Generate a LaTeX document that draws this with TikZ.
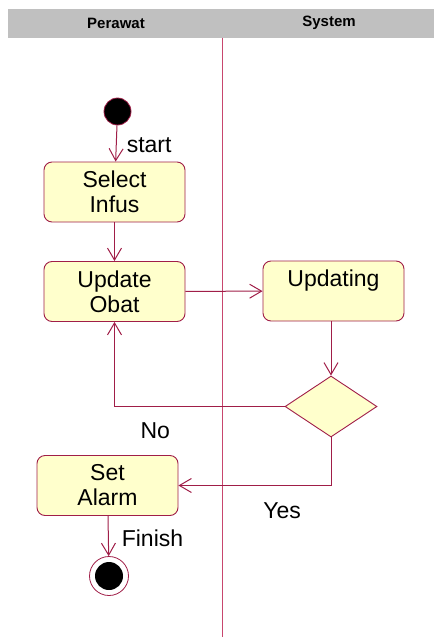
\documentclass[tikz,border=0pt]{standalone}
\usepackage{fontspec}
\setmainfont{Liberation Sans}
\usetikzlibrary{arrows.meta,shapes.geometric}
\definecolor{edge}{RGB}{160,30,72}
\definecolor{lane}{RGB}{200,70,110}
\definecolor{boxfill}{RGB}{255,255,204}
\definecolor{head}{RGB}{192,192,192}
\tikzset{
  act/.style={draw=edge, line width=0.9pt, fill=boxfill, rounded corners=8pt,
    minimum width=141pt, minimum height=60pt, align=center, inner sep=0pt,
    font=\fontsize{23}{25}\selectfont},
  arr/.style={draw=edge, line width=1pt, -{Straight Barb[length=12pt,width=14pt,line width=1pt]}},
  lbl/.style={font=\fontsize{23}{25}\selectfont, inner sep=0pt},
  hdr/.style={font=\fontsize{15}{17}\selectfont\bfseries, inner sep=0pt}
}
\begin{document}
\begin{tikzpicture}[x=1pt,y=-1pt]
\useasboundingbox (0,0) rectangle (434,637);
% swimlane header
\fill[head] (8,9) rectangle (434,37.5);
\node[hdr] (hp) at (116,23) {Perawat};
\node[hdr] (hs) at (329,23) {System};
\draw[lane, line width=0.9pt] (222.5,37.5) -- (222.5,637);
% nodes
\node[circle, draw=edge, fill=black, minimum size=27pt, inner sep=0pt, line width=0.8pt] (start) at (117.5,111.5) {};
\node[act] (sel) at (114.5,192) {Select\\Infus};
\node[act] (upd) at (114.5,291.5) {Update\\Obat};
\node[act] (upg) at (333.5,291) {Updating\\\mbox{}};
\node[diamond, draw=edge, fill=boxfill, line width=0.9pt, minimum width=92pt, minimum height=61pt, inner sep=0pt] (dia) at (331,406.5) {};
\node[act] (alarm) at (107.5,485.5) {Set\\Alarm};
\node[circle, draw=edge, fill=white, minimum size=39pt, inner sep=0pt, line width=0.8pt] (endo) at (109,576) {};
\node[circle, fill=black, minimum size=28pt, inner sep=0pt] (endi) at (endo.center) {};
% edges
\draw[arr] (start) -- node[lbl, anchor=west, xshift=10pt, yshift=-2pt] {start} (sel);
\draw[arr] (sel) -- (upd);
\draw[arr] (upd) -- (upg);
\draw[arr] (upg.south -| dia.north) -- (dia.north);
\draw[arr] (dia.west) -| node[lbl, pos=0.38, yshift=-24pt] {No} (upd.south);
\draw[arr] (dia.south) |- node[lbl, pos=0.66, yshift=-25pt] {Yes} (alarm.east);
\draw[arr] (alarm) -- node[lbl, anchor=west, xshift=13pt, yshift=-2pt] {Finish} (endo);
\end{tikzpicture}
\end{document}
